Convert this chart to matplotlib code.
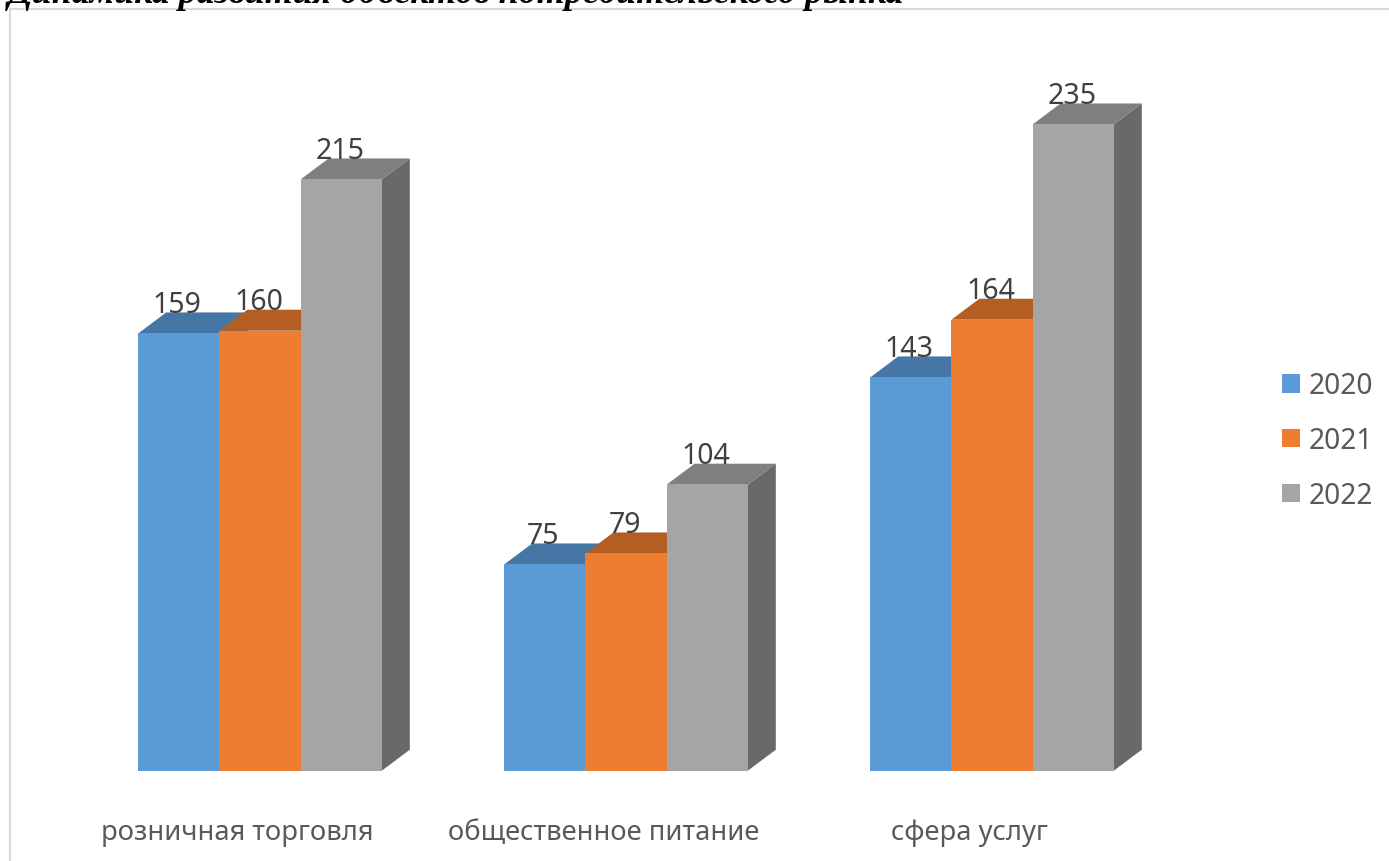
# Dynamics chart, pseudo-3D clustered bars
import matplotlib
matplotlib.use('Agg')
import matplotlib.pyplot as plt
from matplotlib.lines import Line2D
from matplotlib.patches import Polygon
from matplotlib.transforms import ScaledTranslation

categories = ['розничная торговля', 'общественное питание', 'сфера услуг']
years = ['2020', '2021', '2022']
values_2020 = [159, 75, 143]
values_2021 = [160, 79, 164]
values_2022 = [215, 104, 235]
title = 'Динамика развития объектов потребительского рынка'

front_colors = ['#5B9BD5', '#ED7D31', '#A5A5A5']
top_colors = ['#4676A5', '#B55E23', '#7F7F7F']
side_colors = ['#3F6A94', '#9E5220', '#696969']

W, H = 1389, 862
plt.rcParams['font.family'] = ['Noto Sans', 'DejaVu Sans']

fig = plt.figure(figsize=(W / 100, H / 100), dpi=100)
# axes: x from -0.5 to 2.5 is px 77..1175, y from 0 to 250 is px 771.7..84.2
ax = fig.add_axes([77 / W, (H - 771.7) / H, 1098 / W, 687.5 / H])
ax.set_xlim(-0.5, 2.5)
ax.set_ylim(0, 250)
ax.patch.set_alpha(0)

bar_w = 81.2 / 366
depth_x = 28 / 366
depth_y = 21 / 2.75

series = [values_2020, values_2021, values_2022]
for s, vals in enumerate(series):
    for i, v in enumerate(vals):
        left = i - 1.5 * bar_w + s * bar_w
        right = left + bar_w
        # side and top faces first, the front goes over them
        ax.add_patch(Polygon([(right, 0), (right + depth_x, depth_y),
                              (right + depth_x, v + depth_y), (right, v)],
                             fc=side_colors[s], ec='none', zorder=2 + s))
        ax.add_patch(Polygon([(left, v), (left + depth_x, v + depth_y),
                              (right + depth_x, v + depth_y), (right, v)],
                             fc=top_colors[s], ec='none', zorder=2 + s))
    x = [i - bar_w + s * bar_w for i in range(len(vals))]
    bars = ax.bar(x, vals, bar_w, color=front_colors[s], label=years[s], zorder=2 + s)
    for xi, v in zip(x, vals):
        ax.annotate(str(v), (xi, v), xytext=(-1.5 * 0.72, 29 * 0.72), textcoords='offset points',
                    ha='center', va='center', fontsize=20.5, color='#404040', zorder=10)

for side in ax.spines.values():
    side.set_visible(False)
ax.set_yticks([])
ax.set_xticks(range(len(categories)))
ax.set_xticklabels(categories, fontsize=19.7, color='#595959')
ax.tick_params(axis='x', length=0, pad=34)
shift = ScaledTranslation(-22.5 / 100, 0, fig.dpi_scale_trans)
for lab in ax.get_xticklabels():
    lab.set_transform(lab.get_transform() + shift)

fig.legend(loc='center left', bbox_to_anchor=(1262.5 / W, 1 - 441.5 / H), frameon=False,
           fontsize=20.3, labelcolor='#595959', handlelength=0.63, handleheight=0.63,
           handletextpad=0.3, labelspacing=0.91, borderpad=0.2)

# chart frame, only left and top edges are in view
fig.add_artist(Line2D([9.5 / W, 9.5 / W, 1], [0, 1 - 10 / H, 1 - 10 / H],
                      color='#D9D9D9', lw=1.5))

# heading is cut by the top of the picture
fig.text(8 / W, 1 - 3 / H, title, family='Liberation Serif', style='italic', weight='bold',
         fontsize=25.9, color='black', ha='left', va='baseline')

fig.savefig('out.png', dpi=100)
